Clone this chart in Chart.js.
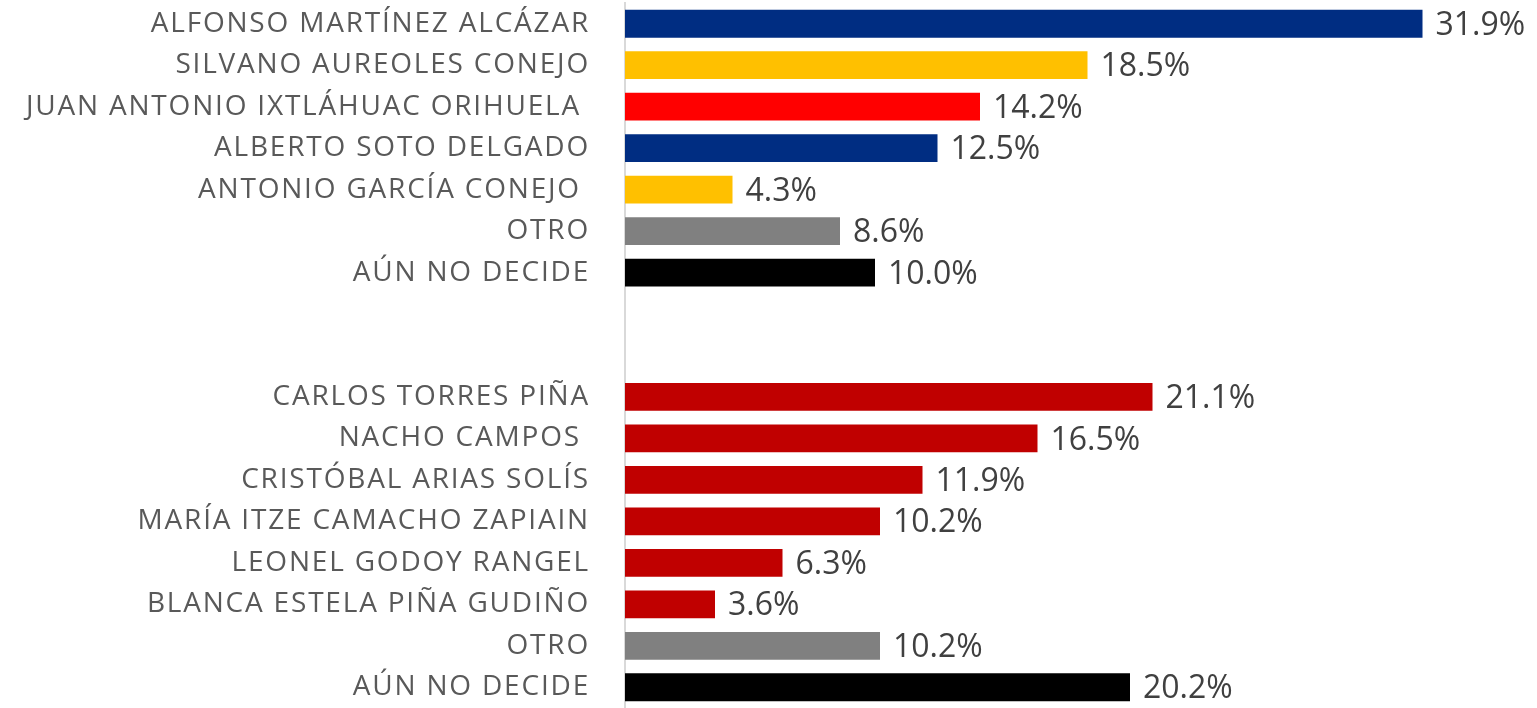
<!DOCTYPE html>
<html>
<head>
<meta charset="utf-8">
<script src="https://cdn.jsdelivr.net/npm/chart.js@4"></script>
<style>
  html, body { margin: 0; padding: 0; background: #fff; }
  #wrap { position: relative; width: 1537px; height: 708px; }
</style>
</head>
<body>
<div id="wrap"><canvas id="myChart"></canvas></div>
<script>
// two groups of candidates, separated by two empty rows
const candidates = [
  "ALFONSO MARTÍNEZ ALCÁZAR",
  "SILVANO AUREOLES CONEJO",
  "JUAN ANTONIO IXTLÁHUAC ORIHUELA ",
  "ALBERTO SOTO DELGADO",
  "ANTONIO GARCÍA CONEJO ",
  "OTRO",
  "AÚN NO DECIDE",
  "",
  "",
  "CARLOS TORRES PIÑA",
  "NACHO CAMPOS ",
  "CRISTÓBAL ARIAS SOLÍS",
  "MARÍA ITZE CAMACHO ZAPIAIN",
  "LEONEL GODOY RANGEL",
  "BLANCA ESTELA PIÑA GUDIÑO",
  "OTRO",
  "AÚN NO DECIDE",
];
const percents = [31.9, 18.5, 14.2, 12.5, 4.3, 8.6, 10.0, null, null, 21.1, 16.5, 11.9, 10.2, 6.3, 3.6, 10.2, 20.2];
const barColors = [
  "#002D82", "#FFC000", "#FF0000", "#002D82", "#FFC000", "#808080", "#000000",
  "#ffffff", "#ffffff",
  "#C00000", "#C00000", "#C00000", "#C00000", "#C00000", "#C00000", "#808080", "#000000",
];

const FONT = "'Open Sans', 'Liberation Sans', sans-serif";

// wider tracking for the candidate names
const labelSpacing = {
  id: "labelSpacing",
  beforeDraw(chart) {
    chart.ctx.letterSpacing = "1.8px";
  },
};

// draws "xx.x%" right after each bar
const valueLabels = {
  id: "valueLabels",
  afterDatasetsDraw(chart) {
    const ctx = chart.ctx;
    const meta = chart.getDatasetMeta(0);
    ctx.save();
    ctx.letterSpacing = "0px";
    ctx.font = "32px " + FONT;
    ctx.fillStyle = "#404040";
    ctx.textAlign = "left";
    ctx.textBaseline = "middle";
    meta.data.forEach((bar, i) => {
      const v = percents[i];
      if (v === null) return;
      ctx.fillText(v.toFixed(1) + "%", bar.x + 13, bar.y + 2);
    });
    ctx.restore();
  },
};

const ctx = document.getElementById("myChart");
new Chart(ctx, {
  type: "bar",
  data: {
    labels: candidates,
    datasets: [
      {
        data: percents,
        backgroundColor: barColors,
        borderWidth: 0,
        barPercentage: 0.67,
        categoryPercentage: 1,
      },
    ],
  },
  options: {
    indexAxis: "y",
    responsive: true,
    maintainAspectRatio: false,
    animation: false,
    layout: {
      padding: { top: 3, right: 37, bottom: -4, left: 0 },
    },
    plugins: {
      legend: { display: false },
      tooltip: { enabled: false },
    },
    scales: {
      x: {
        min: 0,
        max: 35,
        display: false,
      },
      y: {
        afterFit(scale) {
          scale.width = 625;
          scale.paddingTop = 0;
          scale.paddingBottom = 0;
        },
        grid: { display: false, drawTicks: false },
        border: { display: true, color: "#D9D9D9", width: 2 },
        ticks: {
          color: "#595959",
          padding: 35,
          autoSkip: false,
          font: { family: FONT, size: 28 },
        },
      },
    },
  },
  plugins: [labelSpacing, valueLabels],
});
</script>
</body>
</html>
